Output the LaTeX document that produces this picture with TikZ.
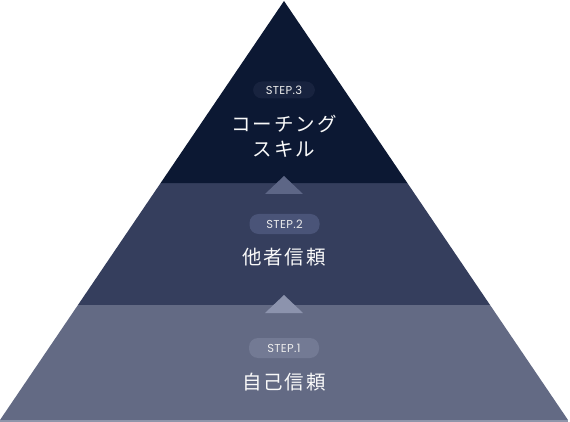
\documentclass[tikz,border=0pt]{standalone}
\usepackage{fontspec}
\usepackage{xcolor}
\usetikzlibrary{calc}
\newfontfamily\jpfont[LetterSpace=10]{Noto Sans CJK JP}
\newfontfamily\stepfont[LetterSpace=3]{Poppins}
\definecolor{tierTop}{HTML}{0C1833}
\definecolor{tierMid}{HTML}{353E5D}
\definecolor{tierLow}{HTML}{636A84}
\definecolor{pillTop}{HTML}{18233F}
\definecolor{pillMid}{HTML}{4A5478}
\definecolor{pillLow}{HTML}{737A94}
\definecolor{arrowTop}{HTML}{5D6686}
\definecolor{arrowMid}{HTML}{8C93AD}
\definecolor{baseLine}{HTML}{8F95AA}

\begin{document}
\begin{tikzpicture}[x=1pt,y=-1pt,
        pill/.style = {rounded corners=9pt,
        minimum width=70pt, minimum height=20pt,
        inner sep=0pt, text=white!85!gray,
        font=\stepfont\fontsize{11.5}{13}\selectfont},
        title/.style = {text=white!95!gray, align=center,
        font=\jpfont\fontsize{19.5}{25}\selectfont}]

        \useasboundingbox (0,0) rectangle (570,422);

        % Pyramid corners
        \coordinate (apex) at (284,1);
        \coordinate (bl) at (0,420);
        \coordinate (br) at (568,420);
        \coordinate (l1) at ($(apex)!0.4344!(bl)$);
        \coordinate (r1) at ($(apex)!0.4344!(br)$);
        \coordinate (l2) at ($(apex)!0.7255!(bl)$);
        \coordinate (r2) at ($(apex)!0.7255!(br)$);

        % Tiers
        \fill[tierLow] (l2) -- (r2) -- (br) -- (bl) -- cycle;
        \fill[tierMid] (l1) -- (r1) -- (r2) -- (l2) -- cycle;
        \fill[tierTop] (apex) -- (r1) -- (l1) -- cycle;
        \fill[baseLine] (bl) rectangle ($(br)+(0,2)$);

        % Small arrows between tiers
        \fill[arrowTop] (284,176) -- (303,194) -- (265,194) -- cycle;
        \fill[arrowMid] (284,295) -- (303,313) -- (265,313) -- cycle;

        % Step 3
        \node [pill,fill=pillTop,minimum width=62pt,minimum height=17pt] (step3) at (284,90) {STEP.3};
        \node [title] (coach) at (284,136) {コーチング\\スキル};

        % Step 2
        \node [pill,fill=pillMid] (step2) at (284.5,224) {STEP.2};
        \node [title] (trust) at (284,257) {他者信頼};

        % Step 1
        \node [pill,fill=pillLow] (step1) at (284,348) {STEP.1};
        \node [title] (self) at (284,382) {自己信頼};

    \end{tikzpicture}
\end{document}
